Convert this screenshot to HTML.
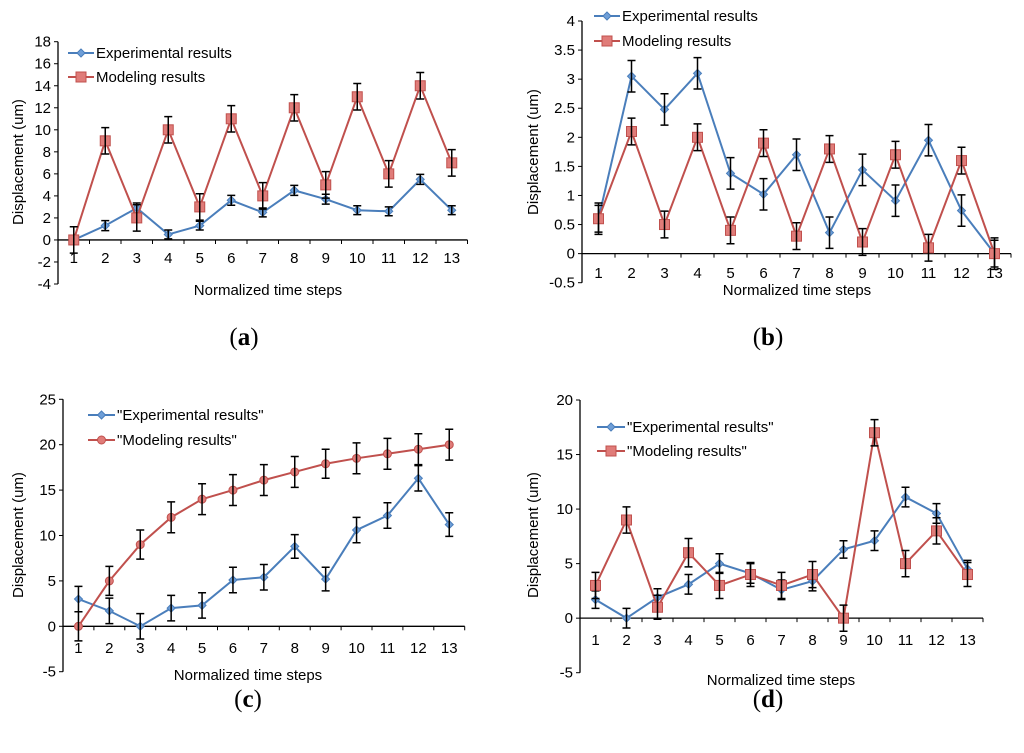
<!DOCTYPE html>
<html><head><meta charset="utf-8"><style>
body{margin:0;background:#fff;}
svg{display:block;font-family:"Liberation Sans",Arial,sans-serif;}
</style></head><body>
<svg id="chart" width="1024" height="753" viewBox="0 0 1024 753"></svg>
<script>
const categories = [1,2,3,4,5,6,7,8,9,10,11,12,13];
const aExp = [0,1.3,2.9,0.5,1.3,3.6,2.5,4.5,3.7,2.7,2.6,5.5,2.7];
const aExpErr = [0.4,0.45,0.45,0.4,0.4,0.45,0.4,0.45,0.45,0.4,0.4,0.45,0.4];
const aMod = [0,9,2,10,3,11,4,12,5,13,6,14,7];
const aModErr = [1.2,1.2,1.2,1.2,1.2,1.2,1.2,1.2,1.2,1.2,1.2,1.2,1.2];
const aTicks = [-4,-2,0,2,4,6,8,10,12,14,16,18];
const bExp = [0.6,3.05,2.48,3.1,1.38,1.02,1.7,0.36,1.44,0.91,1.95,0.74,0];
const bExpErr = [0.27,0.27,0.27,0.27,0.27,0.27,0.27,0.27,0.27,0.27,0.27,0.27,0.27];
const bMod = [0.6,2.1,0.5,2.0,0.4,1.9,0.3,1.8,0.2,1.7,0.1,1.6,0];
const bModErr = [0.23,0.23,0.23,0.23,0.23,0.23,0.23,0.23,0.23,0.23,0.23,0.23,0.23];
const bTicks = [-0.5,0,0.5,1,1.5,2,2.5,3,3.5,4];
const cExp = [3,1.7,0,2,2.3,5.1,5.4,8.8,5.2,10.6,12.2,16.3,11.2];
const cExpErr = [1.4,1.4,1.4,1.4,1.4,1.4,1.4,1.3,1.3,1.4,1.4,1.4,1.3];
const cMod = [0,5,9,12,14,15,16.1,17,17.9,18.5,19,19.5,20];
const cModErr = [1.6,1.6,1.6,1.7,1.7,1.7,1.7,1.7,1.6,1.7,1.7,1.7,1.7];
const cTicks = [-5,0,5,10,15,20,25];
const dExp = [1.7,0,1.9,3.1,5,4.1,2.6,3.4,6.3,7.1,11.1,9.6,4.5];
const dExpErr = [0.8,0.9,0.8,0.9,0.9,0.9,0.9,0.9,0.8,0.9,0.9,0.9,0.8];
const dMod = [3,9,1,6,3,4,3,4,0,17,5,8,4];
const dModErr = [1.2,1.2,1.1,1.3,1.2,1.1,1.2,1.2,1.2,1.2,1.2,1.2,1.1];
const dTicks = [-5,0,5,10,15,20];

const NS='http://www.w3.org/2000/svg';
const svg=document.getElementById('chart');
function mk(tag,attrs,parent,text){const e=document.createElementNS(NS,tag);for(const k in attrs)e.setAttribute(k,attrs[k]);if(text!==undefined)e.textContent=text;(parent||svg).appendChild(e);return e;}
const BLUE='#4a7ebb',RED='#c0504d';

function panel(p){
  const g=mk('g',{});
  
  
  const ymin=p.ticks[0],ymax=p.ticks[p.ticks.length-1];
  const y=v=>p.y0-(v-ymin)/(ymax-ymin)*(p.y0-p.y1);
  const x=i=>p.ax+(i+0.5)*p.band;
  const axEnd=p.ax+categories.length*p.band;
  const ya=mk('line',{x1:p.ax,y1:p.y1,x2:p.ax,y2:p.y0,stroke:'#000','stroke-width':1.3},g);
  
  p.ticks.forEach(t=>{
    mk('line',{x1:p.ax-4,x2:p.ax,y1:y(t),y2:y(t),stroke:'#000'},g);
    const tl=mk('text',{x:p.ax-7,y:y(t)+5,'text-anchor':'end','font-size':15},g,String(t));
    
  });
  const xa=mk('line',{x1:p.ax,x2:axEnd,y1:y(0),y2:y(0),stroke:'#000','stroke-width':1.3},g);
  
  for(let i=0;i<=categories.length;i++)mk('line',{x1:p.ax+i*p.band,x2:p.ax+i*p.band,y1:y(0),y2:y(0)+4,stroke:'#000'},g);
  categories.forEach((c,i)=>{
    const tl=mk('text',{x:x(i),y:p.tickY,'text-anchor':'middle','font-size':15},g,String(c));
    
  });
  const xt=mk('text',{x:p.titleX,y:p.titleY,'text-anchor':'middle','font-size':15},g,'Normalized time steps');
  
  const yt=mk('text',{x:0,y:0,'text-anchor':'middle','font-size':15,transform:`translate(${p.ylX},${p.ylY}) rotate(-90)`},g,'Displacement (um)');
  
  const series=[{v:p.exp,e:p.expErr,c:BLUE,m:'diamond',n:'experimental'},{v:p.mod,e:p.modErr,c:RED,m:p.modMarker,n:'modeling'}];
  series.forEach(s=>{
    const sg=mk('g',{},g);
    
    mk('polyline',{points:s.v.map((v,i)=>x(i)+','+y(v)).join(' '),fill:'none',stroke:s.c,'stroke-width':2},sg);
    s.v.forEach((v,i)=>{
      const cx=x(i),cy=y(v);
      const m=drawMarker(sg,s.m,cx,cy,s.c);
      
    });
    s.v.forEach((v,i)=>{
      const cx=x(i),t=y(v+s.e[i]),b=y(v-s.e[i]);
      const eb=mk('path',{d:`M${cx},${t}V${b}M${cx-4},${t}H${cx+4}M${cx-4},${b}H${cx+4}`,stroke:'#000','stroke-width':1.5,fill:'none'},sg);
      
    });
  });
  // legend
  [[p.exp,BLUE,'diamond',p.legNames[0],p.legY[0]],[p.mod,RED,p.modMarker,p.legNames[1],p.legY[1]]].forEach(L=>{
    const lg=mk('g',{},g);
    
    mk('line',{x1:p.legX,x2:p.legX+p.legW,y1:L[4],y2:L[4],stroke:L[1],'stroke-width':2},lg);
    drawMarker(lg,L[2],p.legX+p.legW/2,L[4],L[1]);
    mk('text',{x:p.legX+p.legW+2,y:L[4]+5,'font-size':15},lg,L[3]);
  });
  const pl=mk('text',{x:p.labX,y:p.labY,'text-anchor':'middle','font-size':25,'font-family':'"Liberation Serif",serif'},svg);
  pl.innerHTML='(<tspan font-weight="bold">'+p.lab+'</tspan>)';
  
}
function drawMarker(par,type,cx,cy,c){
  if(type==='diamond')return mk('path',{d:`M${cx},${cy-4}L${cx+4},${cy}L${cx},${cy+4}L${cx-4},${cy}Z`,fill:'#6f9fd8',stroke:c,'stroke-width':1},par);
  if(type==='square')return mk('rect',{x:cx-5,y:cy-5,width:10,height:10,fill:'#e07c79',stroke:c,'stroke-width':1},par);
  return mk('circle',{cx:cx,cy:cy,r:4,fill:'#e07c79',stroke:c,'stroke-width':1},par);
}
panel({name:'panel-a',lab:'a',labX:244,labY:345,ax:58,band:31.5,y0:284,y1:41.7,ticks:aTicks,exp:aExp,expErr:aExpErr,mod:aMod,modErr:aModErr,modMarker:'square',
  tickY:263,titleX:268,titleY:295,ylX:23,ylY:162,legX:68,legW:26,legY:[53,77],legNames:['Experimental results','Modeling results']});
panel({name:'panel-b',lab:'b',labX:768,labY:345,ax:582,band:33,y0:282.7,y1:21,ticks:bTicks,exp:bExp,expErr:bExpErr,mod:bMod,modErr:bModErr,modMarker:'square',
  tickY:278,titleX:797,titleY:295,ylX:538,ylY:152,legX:594,legW:26,legY:[16,41],legNames:['Experimental results','Modeling results']});
panel({name:'panel-c',lab:'c',labX:248,labY:707,ax:63,band:30.9,y0:671.7,y1:399.3,ticks:cTicks,exp:cExp,expErr:cExpErr,mod:cMod,modErr:cModErr,modMarker:'circle',
  tickY:653,titleX:248,titleY:680,ylX:23,ylY:535,legX:88,legW:27,legY:[415,440],legNames:['"Experimental results"','"Modeling results"']});
panel({name:'panel-d',lab:'d',labX:768,labY:707,ax:580,band:31,y0:672.7,y1:400,ticks:dTicks,exp:dExp,expErr:dExpErr,mod:dMod,modErr:dModErr,modMarker:'square',
  tickY:645,titleX:781,titleY:685,ylX:538,ylY:535,legX:597,legW:28,legY:[427,451],legNames:['"Experimental results"','"Modeling results"']});
</script>
</body></html>
